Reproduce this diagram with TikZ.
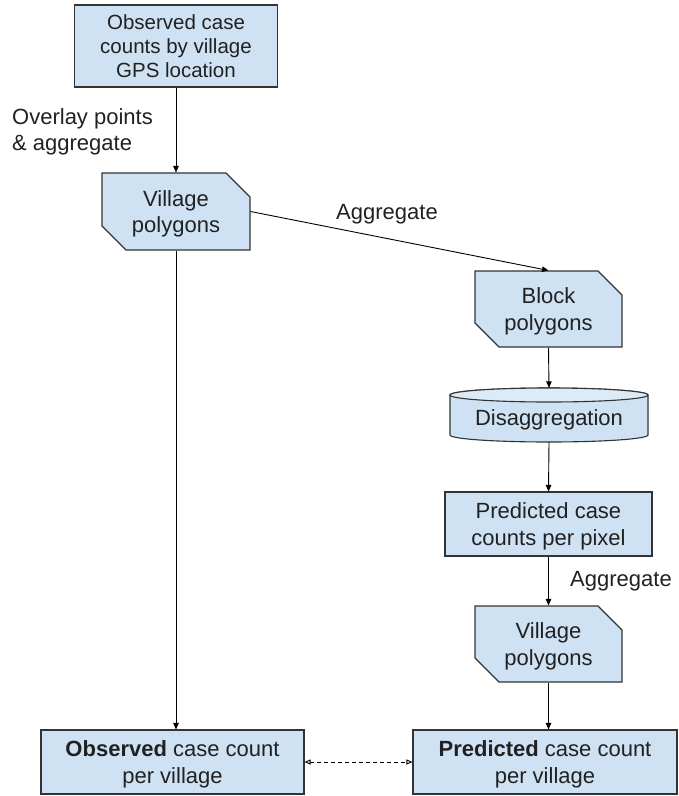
\documentclass[tikz,border=0pt]{standalone}
\usepackage{fontspec}
\setmainfont{Liberation Sans}
\usetikzlibrary{arrows.meta,shapes.misc}
\definecolor{boxfill}{HTML}{CFE2F3}
\definecolor{capfill}{HTML}{DDEBF7}
\definecolor{edge}{HTML}{333333}
\definecolor{txt}{HTML}{212121}
\begin{document}
\begin{tikzpicture}[x=1pt,y=-1pt,
  every node/.style={text=txt},
  txt22/.style={font=\fontsize{22}{26.5}\selectfont},
  box/.style={draw=edge,fill=boxfill,line width=1.1pt,align=center,txt22,inner sep=0pt,text depth=0pt},
  snip/.style={box,chamfered rectangle,chamfered rectangle corners={north east,south west},chamfered rectangle xsep=12pt,chamfered rectangle ysep=12pt},
  lbl/.style={txt22,inner sep=0pt},
  conn/.style={draw=black,line width=0.9pt,-{Triangle[length=6.5pt,width=5.5pt]}},
  dconn/.style={draw=black,line width=0.9pt,dashed,dash pattern=on 4pt off 3pt,{Triangle[open,length=6pt,width=5pt]}-{Triangle[open,length=6pt,width=5pt]}}]
\useasboundingbox (0,0) rectangle (679,796);

\node[box,minimum width=203pt,minimum height=82pt,font=\fontsize{20.5}{24}\selectfont] (obs) at (176,46) {Observed case\\counts by village\\GPS location};
\node[snip,minimum width=148pt,minimum height=77pt] (vp1) at (176,211.5) {Village\\polygons};
\node[snip,minimum width=147pt,minimum height=76pt] (bp) at (548.5,309) {Block\\polygons};

% cylinder
\fill[boxfill,draw=edge,line width=1.1pt] (450,395) -- (450,435) arc[start angle=180,end angle=360,x radius=99pt,y radius=7pt] -- (648,395) arc[start angle=0,end angle=180,x radius=99pt,y radius=7pt] -- cycle;
\draw[fill=capfill,draw=edge,line width=1.1pt] (549,395) ellipse[x radius=99pt,y radius=7pt];
\node[lbl,minimum width=198pt,minimum height=54pt] (dis) at (549,415) {};
\node[lbl] (distxt) at (549,420) {Disaggregation};

\node[box,minimum width=207pt,minimum height=64pt] (ppx) at (548.5,524) {Predicted case\\counts per pixel};
\node[snip,minimum width=147pt,minimum height=76pt] (vp2) at (548.5,644) {Village\\polygons};
\node[box,minimum width=263pt,minimum height=64pt] (obsv) at (172.5,762) {\textbf{Observed} case count\\per village};
\node[box,minimum width=264pt,minimum height=64pt] (predv) at (545,762) {\textbf{Predicted} case count\\per village};

\node[lbl,anchor=west,align=left] (l1) at (12,132) {Overlay points\\\& aggregate};
\node[lbl] (l2) at (387,214) {Aggregate};
\node[lbl] (l3) at (621,581) {Aggregate};

\draw[conn] (obs.south) -- (vp1.north);
\draw[conn] (vp1.east) -- (bp.north);
\draw[conn] (vp1.south) -- (vp1.south |- obsv.north);
\draw[conn] (bp.south) -- (dis.north);
\draw[conn] (dis.south) -- (ppx.north);
\draw[conn] (ppx.south) -- (vp2.north);
\draw[conn] (vp2.south) -- (vp2.south |- predv.north);
\draw[dconn] (obsv.east) -- (predv.west);
\end{tikzpicture}
\end{document}
